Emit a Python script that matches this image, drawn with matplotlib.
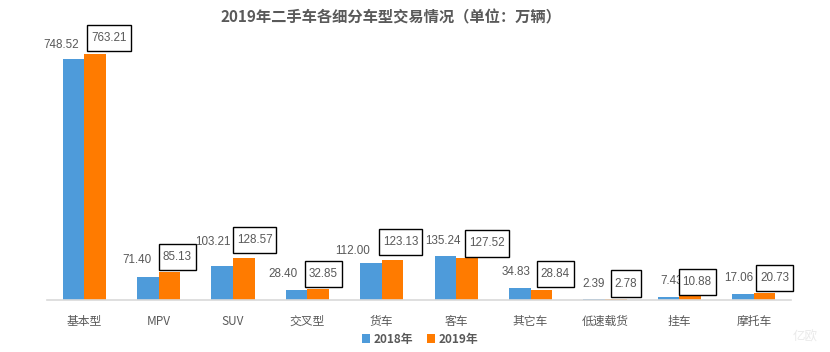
import matplotlib

matplotlib.use("Agg")
import matplotlib.pyplot as plt
import numpy as np
from matplotlib.path import Path

categories = ["基本型", "MPV", "SUV", "交叉型", "货车", "客车", "其它车", "低速载货", "挂车", "摩托车"]
sales_2018 = [748.52, 71.40, 103.21, 28.40, 112.00, 135.24, 34.83, 2.39, 7.43, 17.06]
sales_2019 = [763.21, 85.13, 128.57, 32.85, 123.13, 127.52, 28.84, 2.78, 10.88, 20.73]
series_names = ["2018年", "2019年"]
title = "2019年二手车各细分车型交易情况（单位：万辆）"

# label offsets in pixels (dx, dy) from bar top centre
off_2018 = [(-12, 14), (-11, 17), (-9, 24), (-14, 16), (-18, 12), (-2, 15), (-4, 16), (-1, 15), (3, 16), (-4, 16)]
off_2019 = [(14, 16), (8, 15), (11, 18), (5, 15), (8, 18), (20, 15), (14, 16), (10, 15), (7, 14), (10, 15)]

CJK = ["Noto Sans CJK SC", "DejaVu Sans"]
NUM = ["Liberation Sans"]
plt.rcParams["font.family"] = CJK

BLUE = "#4E9BDA"
ORANGE = "#FF7B00"
GREY = "#595959"


def tall_box(x0, y0, width, height, mutation_size):
    # excel style label box: more room above/below than left/right
    px = 0.33 * mutation_size
    py = 0.62 * mutation_size
    x1, y1 = x0 + width + px, y0 + height + py
    x0, y0 = x0 - px, y0 - py
    return Path([(x0, y0), (x1, y0), (x1, y1), (x0, y1), (x0, y0)], closed=True)


fig = plt.figure(figsize=(8.3, 3.52), dpi=100)
ax = fig.add_axes([47 / 830, 52.5 / 352, 744 / 830, (299.5 - 42) / 352])

x = np.arange(len(categories))
w = 0.29
b1 = ax.bar(x - w / 2, sales_2018, w, color=BLUE, label=series_names[0])
b2 = ax.bar(x + w / 2, sales_2019, w, color=ORANGE, label=series_names[1])

for i in range(len(categories)):
    ax.annotate(f"{sales_2018[i]:.2f}", (x[i] - w / 2, sales_2018[i]), xytext=off_2018[i],
                textcoords="offset pixels", ha="center", va="center", fontsize=8.4,
                family=NUM, color=GREY)
    ax.annotate(f"{sales_2019[i]:.2f}", (x[i] + w / 2, sales_2019[i]), xytext=off_2019[i],
                textcoords="offset pixels", ha="center", va="center", fontsize=8.4,
                family=NUM, color=GREY,
                bbox=dict(boxstyle=tall_box, fc="white", ec="black", lw=1.0))

ax.set_xlim(-0.5, len(categories) - 0.5)
ax.set_ylim(0, 800)
ax.set_yticks([])
ax.set_xticks(x)
ax.set_xticklabels(categories, fontsize=8.5, color=GREY)
ax.tick_params(axis="x", length=0, pad=11)
for s in ["top", "right", "left"]:
    ax.spines[s].set_visible(False)
ax.spines["bottom"].set_color("#D9D9D9")
ax.spines["bottom"].set_linewidth(1.2)

fig.text(391 / 830, 1 - 17 / 352, title, ha="center", va="center", fontsize=11,
         fontweight="bold", color=GREY)

leg = fig.legend(handles=[b1, b2], loc="center", bbox_to_anchor=(420 / 830, 1 - 339 / 352),
                 ncol=2, frameon=False, handlelength=0.7, handleheight=0.7,
                 handletextpad=0.3, columnspacing=1.2,
                 prop={"family": CJK, "size": 8.5, "weight": "bold"})
for t in leg.get_texts():
    t.set_color(GREY)

fig.text(805 / 830, 1 - 337 / 352, "亿欧", ha="center", va="center", fontsize=9,
         color="#EAEAEA")

fig.savefig("out.png", dpi=100)
